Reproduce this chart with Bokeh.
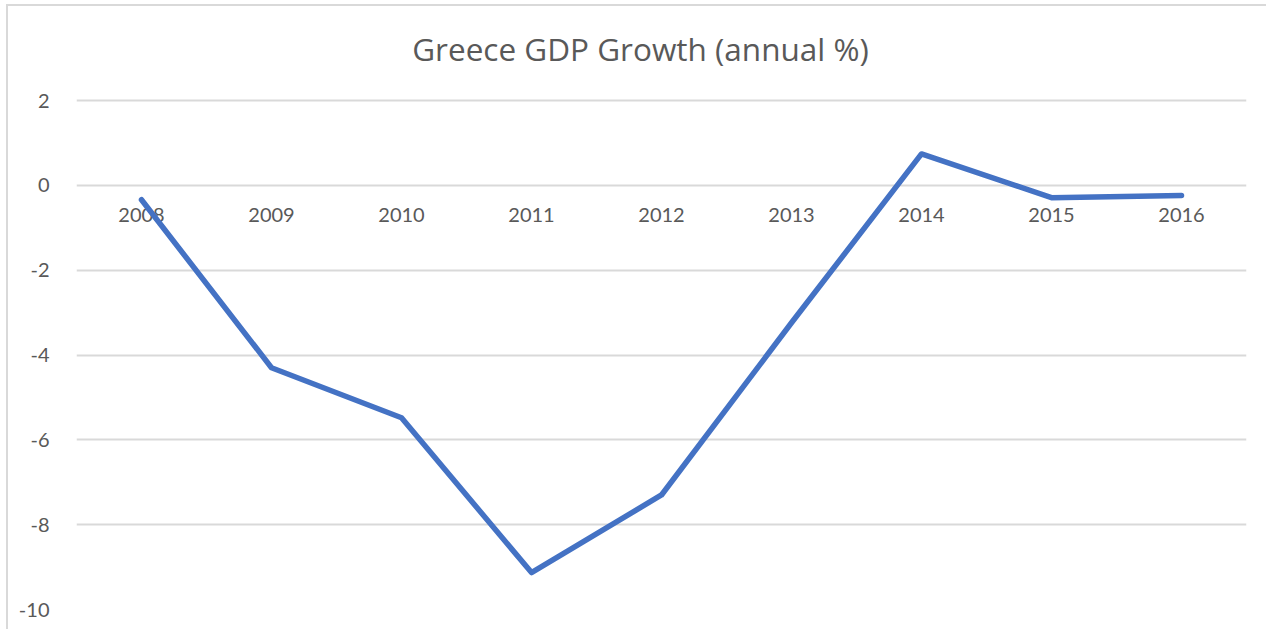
from bokeh.plotting import figure
from bokeh.models import Range1d, FixedTicker, Label, CustomJSTickFormatter
from bokeh.core.properties import value
from bokeh.embed import file_html
from bokeh.resources import INLINE

years = ["2008", "2009", "2010", "2011", "2012", "2013", "2014", "2015", "2016"]
growth = [-0.34, -4.30, -5.48, -9.13, -7.30, -3.24, 0.74, -0.29, -0.24]
y_ticks = [-10, -8, -6, -4, -2, 0, 2]
title_text = "Greece GDP Growth (annual %)"

GREY = "#595959"
GRID = "#d9d9d9"
TITLE_FONT = "Open Sans"
FONT = "Lato"

W, H = 1260, 625
LEFT, RIGHT, BOTTOM = 68, 22, 22
TOP_PAD = 94          # pixels between the canvas top and the "2" gridline
TITLE_MID = 42        # title centre, pixels from canvas top
Y_MIN, Y_MAX = -10, 2

frame_h = H - BOTTOM
ppu = (frame_h - TOP_PAD) / (Y_MAX - Y_MIN)
y_top = Y_MAX + TOP_PAD / ppu
ppx = (W - LEFT - RIGHT) / len(years)

idx = list(range(len(years)))

p = figure(width=W, height=H, output_backend="svg", toolbar_location=None,
           x_range=Range1d(-0.5, len(years) - 0.5), y_range=Range1d(Y_MIN, y_top),
           min_border_left=LEFT, min_border_right=RIGHT, min_border_top=0, min_border_bottom=BOTTOM,
           styles={"margin-left": "6px", "margin-top": "4px",
                   "border-left": "2px solid #d9d9d9", "border-top": "2px solid #d9d9d9"})
p.outline_line_color = None
p.background_fill_color = "white"
p.border_fill_color = "white"

title = Label(x=(len(years) - 1) / 2 - 21 / ppx, y=Y_MAX + (TOP_PAD - TITLE_MID) / ppu,
              text=title_text, text_font=TITLE_FONT, text_font_size="31.5px",
              text_color=GREY, text_align="center", text_baseline="middle")
p.add_layout(title)

p.xaxis.visible = False
p.xgrid.visible = False
p.ygrid.grid_line_color = GRID
p.ygrid.grid_line_width = 2
p.yaxis.ticker = FixedTicker(ticks=y_ticks)
p.yaxis.formatter = CustomJSTickFormatter(code="return String(tick);")
p.yaxis.axis_line_color = None
p.yaxis.major_tick_line_color = None
p.yaxis.minor_tick_line_color = None
p.yaxis.major_label_text_font = FONT
p.yaxis.major_label_text_font_size = "20px"
p.yaxis.major_label_text_color = GREY
p.yaxis.major_label_standoff = 21

p.text(x=idx, y=[0] * len(years), text=years, text_font=value(FONT), text_font_size="20px",
       text_color=GREY, text_align="center", text_baseline="middle", y_offset=30)

p.line(idx, growth, line_color="#4472C4", line_width=5.5, line_join="round", line_cap="round")

open("out.html", "w").write(file_html(p, INLINE))
